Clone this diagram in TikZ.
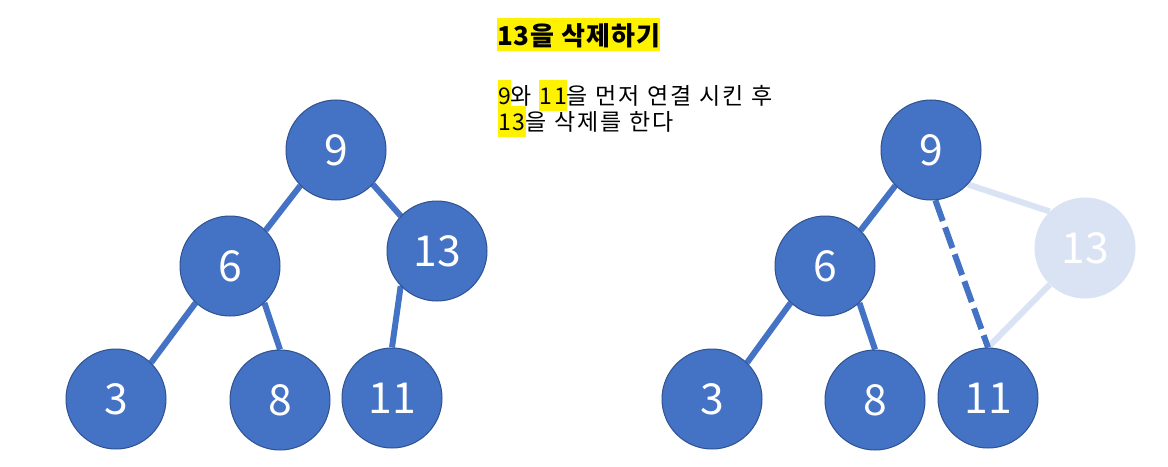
\documentclass[tikz,border=0pt]{standalone}
\usepackage{fontspec}
\setmainfont{Noto Sans CJK KR}
\newfontfamily\bodyfont[LetterSpace=9.5]{Noto Sans CJK KR}
\newfontfamily\titlefont[LetterSpace=4]{Noto Sans CJK KR}
\usetikzlibrary{backgrounds}
\definecolor{nodeblue}{HTML}{4472C4}
\definecolor{nodeline}{HTML}{2F528F}
\definecolor{fadeblue}{HTML}{DAE3F3}
\newcommand{\hlmark}[3]{{\setlength{\fboxsep}{0pt}\colorbox{yellow}{\rule[-#1]{0pt}{#2}#3}}}
\tikzset{
  tnode/.style={circle, fill=nodeblue, draw=nodeline, line width=0.75pt,
    minimum size=75pt, inner sep=0pt, text=white, font=\fontsize{32}{38}\selectfont},
  fnode/.style={circle, fill=fadeblue, draw=none,
    minimum size=75.75pt, inner sep=0pt, text=white, font=\fontsize{32}{38}\selectfont},
  tedge/.style={draw=nodeblue, line width=4.5pt},
  fedge/.style={draw=fadeblue, line width=4.5pt},
  dedge/.style={draw=nodeblue, line width=4.5pt, dash pattern=on 16.5pt off 5pt},
  txt/.style={inner sep=0pt, outer sep=0pt, anchor=base west},
}
\begin{document}
\begin{tikzpicture}[x=0.75pt, y=-0.75pt]
\useasboundingbox (0,0) rectangle (1168,467);

% text
\node[txt, font=\titlefont\fontsize{19.5}{24}\selectfont\bfseries] (title) at (497,46)
  {\hlmark{3.75pt}{24.75pt}{13을 삭제하기}};
\node[txt, font=\bodyfont\fontsize{17.25}{21}\selectfont] (line1) at (498,105)
  {\hlmark{4.5pt}{23.25pt}{9}와 \hlmark{4.5pt}{23.25pt}{11}을 먼저 연결 시킨 후};
\node[txt, font=\bodyfont\fontsize{17.25}{21}\selectfont] (line2) at (498,131)
  {\hlmark{4.5pt}{23.25pt}{13}을 삭제를 한다};

% left tree
\node[tnode] (L9) at (336,150) {9};
\node[tnode] (L6) at (230,266) {6};
\node[tnode] (L13) at (437,251) {13};
\node[tnode] (L3) at (116,399) {3};
\node[tnode] (L8) at (280,400) {8};
\node[tnode] (L11) at (392,398) {11};

% right tree
\node[tnode] (R9) at (931,150) {9};
\node[tnode] (R6) at (825,266) {6};
\node[fnode] (R13) at (1085,248) {13};
\node[tnode] (R3) at (712,399) {3};
\node[tnode] (R8) at (875,400) {8};
\node[tnode] (R11) at (988,398) {11};

\begin{scope}[on background layer]
  \fill[white] (0,0) rectangle (1168,467);
  \draw[tedge] (L9.225) -- (L6.45);
  \draw[tedge] (L9.317) -- (L13.136);
  \draw[tedge] (L6.227) -- (L3.46);
  \draw[tedge] (L6.313) -- (L8.90);
  \draw[tedge] (L13.224) -- (L11.90);

  \draw[fedge] (R9.317) -- (R13.134);
  \draw[fedge] (R13.226) -- (R11.90);
  \draw[tedge] (R9.225) -- (R6.45);
  \draw[tedge] (R6.227) -- (R3.46);
  \draw[tedge] (R6.313) -- (R8.90);
  \draw[dedge] (R9.275) -- (R11.90);
\end{scope}
\end{tikzpicture}
\end{document}
